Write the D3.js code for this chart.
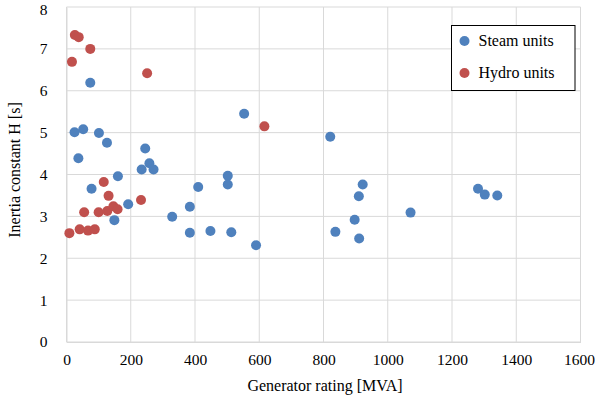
<!DOCTYPE html>
<html><head><meta charset="utf-8">
<script src="https://cdn.jsdelivr.net/npm/d3@7"></script>
<style>body{margin:0;background:#fff}svg{display:block}svg text{font-family:"Liberation Serif","Times New Roman","DejaVu Serif",serif !important;fill:#000}</style>
</head><body><svg id="c" width="595" height="407"></svg>
<script>
const steamX = [74, 553, 25, 52, 101, 126, 245, 37, 258, 234, 271, 160, 502, 78, 410, 502, 384, 192, 329, 149, 384, 448, 513, 590, 821, 922, 910, 897, 837, 911, 1071, 1281, 1302, 1341];
const steamH = [6.19, 5.45, 5.01, 5.08, 4.99, 4.76, 4.62, 4.39, 4.27, 4.12, 4.12, 3.96, 3.97, 3.66, 3.70, 3.76, 3.23, 3.29, 2.99, 2.91, 2.61, 2.65, 2.62, 2.31, 4.90, 3.76, 3.48, 2.92, 2.63, 2.47, 3.09, 3.66, 3.52, 3.50];
const hydroX = [26, 38, 74, 17, 251, 616, 116, 131, 232, 55, 100, 127, 146, 159, 9, 41, 67, 88];
const hydroH = [7.33, 7.28, 7.00, 6.69, 6.42, 5.15, 3.82, 3.49, 3.39, 3.10, 3.10, 3.13, 3.24, 3.17, 2.60, 2.69, 2.66, 2.69];
const xTicks = [0, 200, 400, 600, 800, 1000, 1200, 1400, 1600];
const yTicks = [0, 1, 2, 3, 4, 5, 6, 7, 8];
const seriesNames = ["Steam units", "Hydro units"];
const colors = ["#4F81BD", "#C0504D"];

const FONT = '"Liberation Serif", "Times New Roman", serif';
const svg = d3.select("#c");
const x = d3.scaleLinear().domain([0, 1600]).range([66.5, 580.5]);
const y = d3.scaleLinear().domain([0, 8]).range([342, 7]);

// gridlines
svg.append("g").selectAll("line.h").data(yTicks).join("line")
  .attr("x1", x(0)).attr("x2", x(1600)).attr("y1", d => y(d)).attr("y2", d => y(d))
  .attr("stroke", "#d9d9d9").attr("stroke-width", 1);
svg.append("g").selectAll("line.v").data(xTicks).join("line")
  .attr("x1", d => x(d)).attr("x2", d => x(d)).attr("y1", y(0)).attr("y2", y(8))
  .attr("stroke", "#d9d9d9").attr("stroke-width", 1);

// axes
const xa = svg.append("g").attr("transform", `translate(0,${y(0)})`)
  .call(d3.axisBottom(x).tickValues(xTicks).tickSize(0).tickPadding(12).tickFormat(d3.format("d")));
const ya = svg.append("g").attr("transform", `translate(${x(0)},0)`)
  .call(d3.axisLeft(y).tickValues(yTicks).tickSize(0).tickPadding(19).tickFormat(d3.format("d")));
[xa, ya].forEach(a => {
  a.attr("font-family", FONT).attr("font-size", 15.5);
  a.select(".domain").attr("stroke", "#d9d9d9");
  a.selectAll("text").attr("fill", "#000");
});
xa.selectAll(".tick text").filter(d => d === 1600).attr("dx", -1.5);
ya.selectAll(".tick text").filter(d => d === 8).attr("dy", "0.5em");

// points
const series = [
  {name: seriesNames[1], xs: hydroX, ys: hydroH, color: colors[1]},
  {name: seriesNames[0], xs: steamX, ys: steamH, color: colors[0]}
];
series.forEach(s => {
  svg.append("g").selectAll("circle").data(s.xs.map((v, i) => [v, s.ys[i]])).join("circle")
    .attr("cx", d => x(d[0])).attr("cy", d => y(d[1])).attr("r", 5).attr("fill", s.color);
});

// axis titles
svg.append("text").attr("x", 325).attr("y", 391).attr("text-anchor", "middle")
  .attr("font-family", FONT).attr("font-size", 16).text("Generator rating [MVA]");
svg.append("text").attr("transform", "translate(20,170) rotate(-90)").attr("text-anchor", "middle")
  .attr("font-family", FONT).attr("font-size", 16).text("Inertia constant H [s]");

// legend
const lg = svg.append("g");
lg.append("rect").attr("x", 451.5).attr("y", 25.5).attr("width", 123.5).attr("height", 65)
  .attr("fill", "#fff").attr("stroke", "#000").attr("stroke-width", 1);
[0, 1].forEach(i => {
  const yy = 41 + i * 32;
  lg.append("circle").attr("cx", 464.5).attr("cy", yy).attr("r", 5).attr("fill", colors[i]);
  lg.append("text").attr("x", 478.5).attr("y", yy + 5).attr("font-family", FONT).attr("font-size", 16).text(seriesNames[i]);
});
</script></body></html>
